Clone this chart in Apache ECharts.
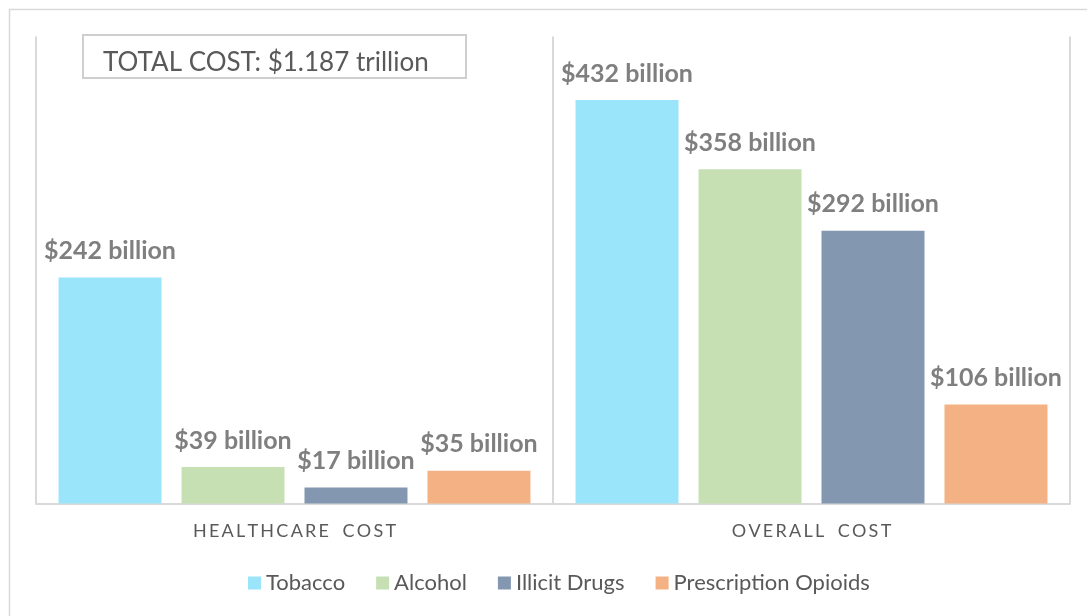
<!DOCTYPE html>
<html>
<head>
<meta charset="utf-8">
<script src="https://cdn.jsdelivr.net/npm/echarts@6/dist/echarts.min.js"></script>
<style>
  html, body { margin: 0; padding: 0; background: #fff; }
  #chart { width: 1087px; height: 616px; }
</style>
</head>
<body>
<div id="chart"></div>
<script>
// Cost categories and series (values in billions of dollars)
const categories = ['HEALTHCARE COST', 'OVERALL COST'];
const seriesNames = ['Tobacco', 'Alcohol', 'Illicit Drugs', 'Prescription Opioids'];
const tobacco = [242, 432];
const alcohol = [39, 358];
const illicitDrugs = [17, 292];
const prescriptionOpioids = [35, 106];
const totalCostText = 'TOTAL COST: $1.187 trillion';

const colors = ['#9be5fb', '#c6e0b4', '#8497b0', '#f4b183'];
const seriesData = [tobacco, alcohol, illicitDrugs, prescriptionOpioids];
const FONT = 'Lato, "Open Sans", sans-serif';

// widen category labels with thin spaces between letters
function spaced(s) {
  return s.split('').map(c => c === ' ' ? '\u2002' : c).join('\u2009');
}

const chart = echarts.init(document.getElementById('chart'));
chart.setOption({
  animation: false,
  textStyle: { fontFamily: FONT },
  color: colors,
  grid: { left: 36, right: 17, top: 36.5, bottom: 112.5, containLabel: false },
  xAxis: {
    type: 'category',
    data: categories,
    axisLine: { lineStyle: { color: '#d9d9d9', width: 2 } },
    axisTick: { show: false },
    splitLine: { show: true, lineStyle: { color: '#d9d9d9', width: 2 } },
    axisLabel: {
      margin: 19,
      fontSize: 18,
      color: '#595959',
      fontFamily: FONT,
      formatter: v => spaced(v)
    }
  },
  yAxis: {
    type: 'value',
    min: 0,
    max: 500,
    show: false,
    splitLine: { show: false }
  },
  legend: {
    data: seriesNames,
    top: 567,
    left: 243,
    itemWidth: 13,
    itemHeight: 13,
    itemGap: 31,
    icon: 'rect',
    textStyle: { fontSize: 22, color: '#595959', fontFamily: FONT }
  },
  series: seriesNames.map((name, i) => ({
    name: name,
    type: 'bar',
    data: seriesData[i],
    barWidth: 103,
    barGap: '19.4%',
    itemStyle: { color: colors[i] },
    label: {
      show: true,
      position: 'top',
      distance: 14,
      fontSize: 25,
      fontWeight: 'bold',
      color: '#7f7f7f',
      fontFamily: FONT,
      formatter: p => '$' + p.value + ' billion'
    }
  })),
  graphic: [
    {
      type: 'rect',
      left: 7, top: 7,
      shape: { width: 1090, height: 620 },
      style: { fill: 'none', stroke: '#d9d9d9', lineWidth: 1.5 },
      silent: true
    },
    {
      type: 'rect',
      left: 82, top: 34,
      shape: { width: 383, height: 43 },
      style: { fill: '#ffffff', stroke: '#cfcfcf', lineWidth: 2 },
      z: 10
    },
    {
      type: 'text',
      left: 103, top: 50,
      style: { text: totalCostText, fontSize: 26, fill: '#595959', fontFamily: FONT },
      z: 11
    }
  ]
});
</script>
</body>
</html>
